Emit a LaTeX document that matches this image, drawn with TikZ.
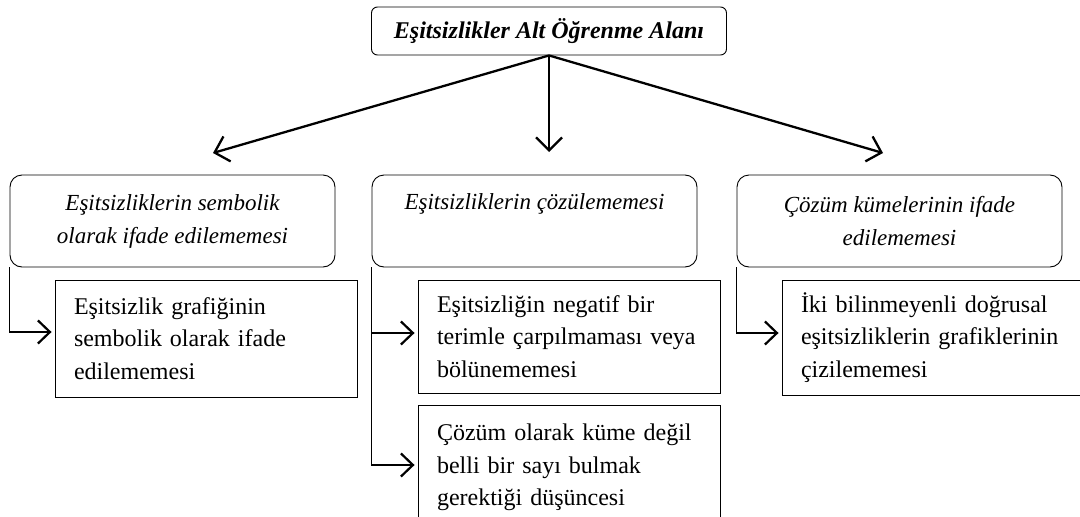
\documentclass[tikz,border=0pt]{standalone}
\usepackage{fontspec}
\setmainfont{Liberation Serif}
\usetikzlibrary{arrows.meta}
\tikzset{
  toptitle/.style={draw, line width=0.9pt, rounded corners=6pt, minimum width=355pt, minimum height=48pt, inner sep=0pt,
    font=\fontsize{24}{30}\selectfont\bfseries\itshape},
  catbox/.style={draw, line width=0.9pt, rounded corners=12pt, minimum width=325pt, minimum height=92pt, inner sep=0pt,
    align=center, font=\fontsize{23}{33}\selectfont\itshape},
  itembox/.style={draw, line width=0.9pt, minimum width=302pt, inner xsep=19pt, inner ysep=0pt,
    text width=264pt, align=left, font=\fontsize{24}{32.5}\selectfont},
  mainarrow/.style={line width=2.3pt, -{Straight Barb[length=13pt,width=26pt,line width=2.3pt]}},
  conn/.style={line width=1.3pt, -{Straight Barb[length=12pt,width=23pt,line width=2.2pt]}, shorten >=3pt}
}
\begin{document}
\begin{tikzpicture}[x=1pt,y=-1pt]
\useasboundingbox (0,0) rectangle (1080,517);
\begin{scope}
\clip (0,0) rectangle (1080,517);
\node[toptitle] (top) at (549,31) {Eşitsizlikler Alt Öğrenme Alanı};

\node[catbox] (l2a) at (172.5,221) {Eşitsizliklerin sembolik\\olarak ifade edilememesi};
\node[catbox, label={[anchor=center, yshift=-29pt, font=\fontsize{23}{33}\selectfont\itshape]north:Eşitsizliklerin çözülememesi}] (l2b) at (534.5,221) {};
\node[catbox] (l2c) at (899.5,221) {Çözüm kümelerinin ifade\\edilememesi};

\node[itembox, minimum height=117pt] (c1) at (206,338.5) {Eşitsizlik grafiğinin\\sembolik olarak ifade\\edilememesi};
\node[itembox, minimum height=113pt] (c2) at (569,336.5) {Eşitsizliğin negatif bir\\terimle çarpılmaması veya\\bölünememesi};
\node[itembox, minimum height=125pt] (c3) at (569,467.5) {Çözüm olarak küme değil\\belli bir sayı bulmak\\gerektiği düşüncesi};
\node[itembox, minimum height=115pt, minimum width=300pt, text width=262pt] (c4) at (932,337.5) {İki bilinmeyenli doğrusal\\eşitsizliklerin grafiklerinin\\çizilememesi};

\coordinate (ta) at (213,153);
\coordinate (tb) at (549,152);
\coordinate (tc) at (883,153);
\draw[mainarrow] (top.south) -- (ta);
\draw[mainarrow] (top.south) -- (tb);
\draw[mainarrow] (top.south) -- (tc);

\draw[conn] (l2a.south west) |- ([yshift=6.5pt]c1.west);
\draw[conn] (l2b.south west) |- ([yshift=3.5pt]c2.west);
\draw[conn] (l2b.south west) |- ([yshift=2.5pt]c3.west);
\draw[conn] (l2c.south west) |- ([yshift=4.5pt]c4.west);
\end{scope}
\end{tikzpicture}
\end{document}
